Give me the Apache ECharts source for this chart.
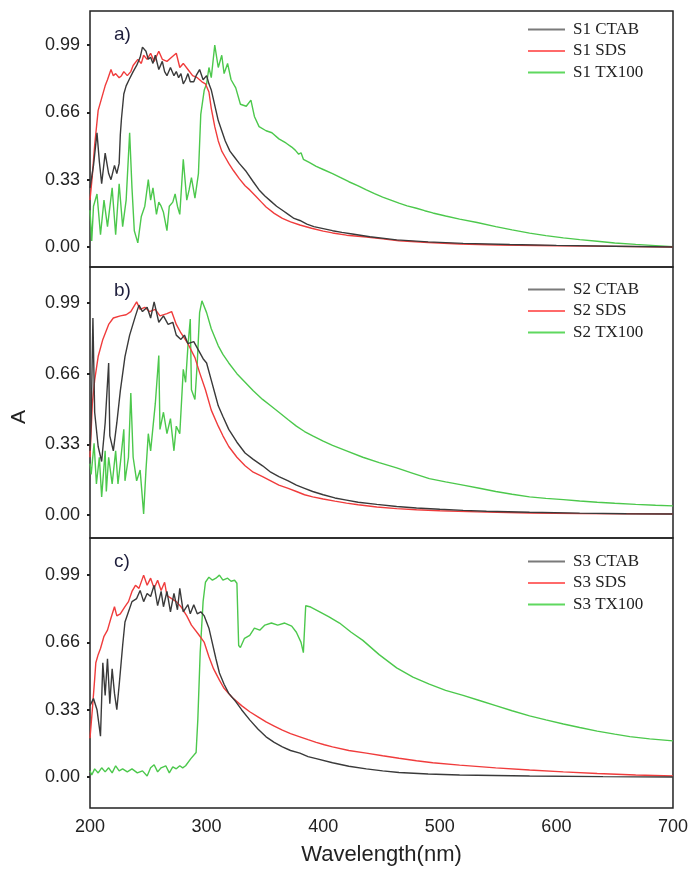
<!DOCTYPE html>
<html>
<head>
<meta charset="utf-8">
<script src="https://cdn.jsdelivr.net/npm/echarts@6/dist/echarts.min.js"></script>
<style>
html,body{margin:0;padding:0;background:#fff;}
#chart{width:691px;height:869px;}
</style>
</head>
<body>
<div id="chart"></div>
<script>
// ---------- DATA (wavelength nm, absorbance A) ----------
const xTicks = [200, 300, 400, 500, 600, 700];
const yTicks = [0, 0.33, 0.66, 0.99];
const panelLabels = ['a)', 'b)', 'c)'];
const seriesNames = [
  ['S1 CTAB', 'S1 SDS', 'S1 TX100'],
  ['S2 CTAB', 'S2 SDS', 'S2 TX100'],
  ['S3 CTAB', 'S3 SDS', 'S3 TX100']
];

const S1_CTAB = [[200,0.29],[203,0.40],[206,0.56],[208,0.42],[210,0.31],[213,0.46],[216,0.36],[218,0.33],[221,0.40],[223,0.36],[225,0.41],[226,0.55],[227,0.63],[229,0.75],[231,0.79],[233.5,0.82],[237,0.86],[240,0.89],[243,0.93],[245,0.98],[248,0.96],[250,0.92],[252,0.93],[254,0.90],[256,0.94],[259,0.87],[262,0.91],[264,0.86],[266,0.84],[269,0.88],[272,0.84],[274,0.86],[276,0.83],[278,0.85],[280,0.80],[282,0.82],[284,0.85],[286,0.81],[289,0.81],[291,0.84],[294,0.87],[297,0.82],[300,0.84],[302,0.80],[304,0.77],[306,0.72],[308,0.67],[310,0.62],[313,0.57],[316,0.52],[320,0.47],[324,0.44],[328,0.41],[334,0.37],[340,0.32],[345,0.28],[350,0.25],[355,0.225],[360,0.20],[365,0.18],[370,0.16],[375,0.14],[380,0.13],[386,0.112],[392,0.10],[400,0.09],[408,0.08],[416,0.072],[425,0.064],[440,0.05],[463,0.035],[490,0.025],[520,0.018],[560,0.012],[600,0.008],[650,0.004],[700,0.0]];
const S1_SDS = [[200,0.23],[202,0.35],[204,0.50],[207,0.67],[210,0.73],[213,0.79],[215,0.82],[218,0.87],[220,0.84],[222,0.85],[225,0.83],[227,0.84],[229,0.86],[232,0.84],[235,0.86],[237,0.89],[241,0.92],[244,0.90],[246,0.94],[249,0.92],[252,0.95],[255,0.91],[259,0.96],[262,0.92],[266,0.91],[270,0.93],[274,0.95],[277,0.88],[280,0.90],[284,0.87],[288,0.84],[292,0.83],[296,0.81],[299,0.80],[302,0.76],[304,0.68],[307,0.59],[310,0.52],[313,0.47],[316,0.44],[319,0.41],[323,0.375],[328,0.335],[333,0.30],[337,0.28],[342,0.25],[347,0.22],[351,0.196],[358,0.165],[365,0.14],[372,0.123],[380,0.108],[390,0.092],[400,0.078],[408,0.069],[420,0.058],[437,0.049],[451,0.04],[465,0.031],[490,0.022],[517,0.015],[550,0.01],[600,0.006],[650,0.003],[700,0.0]];
const S1_TX100 = [[200,0.18],[201.5,0.03],[203,0.20],[206,0.26],[209,0.06],[212,0.23],[215,0.10],[219,0.29],[222,0.06],[225,0.31],[228,0.10],[231,0.23],[234,0.56],[236,0.29],[238,0.08],[241,0.02],[244,0.15],[247,0.20],[250,0.33],[252,0.23],[254,0.29],[257,0.16],[259,0.22],[261,0.20],[263,0.17],[266,0.08],[268,0.20],[271,0.22],[273,0.26],[275,0.20],[277,0.16],[280,0.43],[283,0.23],[285,0.28],[287,0.34],[290,0.24],[293,0.36],[295,0.65],[298,0.77],[300,0.80],[302,0.88],[304,0.83],[307,0.99],[310,0.88],[313,0.94],[315,0.85],[318,0.90],[321,0.82],[325,0.78],[329,0.70],[334,0.69],[338,0.72],[341,0.64],[345,0.59],[351,0.57],[356,0.56],[362,0.53],[368,0.51],[373,0.49],[376,0.475],[379,0.455],[381,0.462],[383,0.43],[388,0.415],[394,0.395],[400,0.38],[408,0.36],[415,0.34],[422,0.32],[430,0.30],[437,0.28],[444,0.262],[451,0.245],[458,0.23],[465,0.215],[472,0.202],[480,0.19],[487,0.178],[494,0.167],[505,0.152],[517,0.137],[532,0.12],[548,0.10],[562,0.084],[577,0.068],[591,0.056],[606,0.045],[620,0.036],[635,0.028],[650,0.02],[668,0.013],[685,0.007],[700,0.002]];

const S2_CTAB = [[200,0.30],[201,0.44],[202.5,0.92],[204,0.48],[207,0.32],[210,0.25],[213,0.43],[216,0.71],[217,0.37],[220,0.30],[223,0.43],[226,0.58],[230,0.74],[234,0.84],[239,0.93],[242,0.98],[245,0.95],[249,0.97],[252,0.92],[255,0.995],[259,0.90],[263,0.93],[267,0.89],[271,0.90],[274,0.84],[278,0.82],[281,0.84],[284,0.80],[289,0.81],[293,0.77],[297,0.73],[300,0.71],[304,0.63],[307,0.57],[310,0.51],[314,0.46],[319,0.40],[326,0.34],[333,0.29],[340,0.26],[348,0.23],[355,0.20],[362,0.18],[370,0.16],[377,0.14],[384,0.125],[391,0.11],[400,0.095],[410,0.08],[420,0.07],[430,0.06],[446,0.05],[463,0.04],[480,0.033],[500,0.027],[520,0.022],[540,0.018],[577,0.013],[620,0.009],[660,0.006],[700,0.005]];
const S2_SDS = [[200,0.27],[202,0.52],[204,0.63],[207,0.74],[211,0.82],[216,0.89],[220,0.92],[226,0.93],[231,0.935],[235,0.95],[240,0.995],[243,0.96],[247,0.97],[251,0.95],[256,0.96],[260,0.93],[266,0.94],[270,0.95],[274,0.89],[278,0.85],[284,0.80],[290,0.735],[294,0.665],[299,0.585],[304,0.49],[310,0.415],[314,0.37],[319,0.32],[326,0.27],[333,0.23],[340,0.20],[348,0.18],[355,0.16],[362,0.14],[370,0.125],[377,0.11],[384,0.095],[391,0.085],[400,0.075],[410,0.065],[420,0.056],[430,0.048],[446,0.038],[463,0.03],[480,0.025],[500,0.02],[540,0.014],[577,0.01],[620,0.007],[660,0.006],[700,0.005]];
const S2_TX100 = [[200,0.24],[201,0.19],[203.5,0.335],[205.5,0.145],[208,0.27],[210,0.085],[213,0.30],[214,0.11],[216,0.27],[219,0.145],[222,0.30],[224,0.145],[226,0.24],[229,0.40],[230,0.16],[233,0.27],[235,0.57],[237,0.27],[240,0.16],[243,0.21],[246,0.005],[248,0.21],[250,0.38],[252,0.30],[256,0.52],[259,0.745],[260,0.40],[263,0.48],[266,0.38],[269,0.45],[272,0.30],[274,0.415],[277,0.38],[280,0.68],[282,0.62],[284,0.79],[286,0.915],[287,0.585],[290,0.54],[292,0.71],[294,0.945],[296,1.0],[300,0.945],[304,0.87],[310,0.79],[314,0.75],[319,0.71],[326,0.66],[333,0.62],[340,0.58],[348,0.54],[355,0.51],[362,0.48],[370,0.445],[377,0.415],[384,0.39],[391,0.37],[400,0.345],[408,0.325],[420,0.30],[434,0.27],[448,0.245],[463,0.22],[477,0.195],[491,0.17],[505,0.155],[520,0.14],[534,0.125],[548,0.11],[562,0.097],[577,0.085],[591,0.078],[606,0.072],[620,0.066],[635,0.06],[650,0.055],[668,0.05],[685,0.046],[700,0.043]];

const S3_CTAB = [[200,0.35],[203,0.385],[206,0.33],[209,0.20],[211,0.56],[213,0.40],[215,0.58],[217,0.36],[219,0.53],[221,0.41],[223,0.33],[225,0.45],[228,0.645],[230,0.76],[233,0.81],[236,0.86],[240,0.875],[243,0.915],[246,0.86],[249,0.90],[252,0.885],[255,0.94],[258,0.84],[261,0.91],[263,0.835],[266,0.91],[269,0.81],[272,0.90],[275,0.82],[277,0.925],[280,0.81],[284,0.845],[286,0.80],[289,0.845],[292,0.80],[295,0.81],[298,0.79],[302,0.73],[304,0.68],[308,0.58],[311,0.51],[315,0.455],[319,0.41],[325,0.37],[330,0.33],[337,0.28],[344,0.235],[351,0.197],[358,0.17],[365,0.148],[372,0.13],[380,0.117],[387,0.10],[394,0.09],[408,0.07],[422,0.053],[437,0.04],[451,0.03],[465,0.022],[490,0.015],[517,0.01],[577,0.005],[640,0.002],[700,0.0]];
const S3_SDS = [[200,0.19],[202,0.33],[204,0.48],[205,0.56],[207,0.60],[209,0.63],[212,0.69],[215,0.72],[218,0.78],[221,0.835],[223,0.79],[226,0.80],[230,0.835],[233,0.86],[236,0.91],[239,0.94],[242,0.925],[246,0.99],[249,0.94],[252,0.975],[255,0.925],[258,0.965],[261,0.915],[264,0.955],[266,0.89],[270,0.875],[274,0.86],[278,0.835],[283,0.79],[287,0.745],[293,0.70],[298,0.66],[302,0.59],[306,0.53],[311,0.475],[315,0.435],[322,0.39],[330,0.35],[337,0.32],[344,0.295],[351,0.27],[358,0.25],[365,0.23],[372,0.213],[380,0.197],[387,0.183],[394,0.17],[401,0.158],[408,0.148],[422,0.13],[437,0.117],[451,0.104],[465,0.092],[480,0.08],[494,0.07],[517,0.058],[548,0.045],[577,0.034],[606,0.025],[635,0.017],[668,0.01],[700,0.005]];
const S3_TX100 = [[200,0.03],[201.5,0.01],[204,0.04],[207,0.02],[210,0.045],[213,0.025],[216,0.045],[219,0.02],[222,0.055],[225,0.03],[228,0.04],[232,0.025],[236,0.04],[240.6,0.02],[245,0.03],[249,0.005],[252,0.045],[255,0.06],[258,0.025],[261,0.045],[265,0.055],[268,0.02],[271,0.05],[274,0.04],[277,0.055],[279.5,0.045],[282,0.055],[286.5,0.09],[291,0.12],[292.5,0.285],[294.5,0.61],[297,0.86],[299,0.955],[302,0.98],[305,0.965],[308,0.975],[311,0.99],[314,0.965],[318,0.975],[321,0.96],[324,0.965],[326,0.95],[327.5,0.645],[329,0.635],[332.5,0.68],[337,0.695],[341,0.73],[345.6,0.72],[350,0.745],[355.6,0.755],[361,0.745],[367,0.755],[373,0.74],[377,0.71],[381,0.66],[383,0.61],[385,0.84],[388.5,0.835],[397,0.81],[405,0.785],[414,0.755],[424,0.71],[434,0.67],[448,0.60],[463,0.535],[477,0.49],[491,0.455],[505,0.425],[520,0.40],[534,0.375],[548,0.35],[562,0.325],[577,0.30],[591,0.28],[606,0.26],[620,0.243],[635,0.225],[650,0.21],[663,0.198],[680,0.187],[700,0.177]];

const panelData = [
  [S1_CTAB, S1_SDS, S1_TX100],
  [S2_CTAB, S2_SDS, S2_TX100],
  [S3_CTAB, S3_SDS, S3_TX100]
];

// ---------- STYLE / LAYOUT ----------
const lineColors = ['#3a3a3a', '#f03c3c', '#4cc84c'];
const legendColors = ['#7a7a7a', '#ff6a6a', '#5fd85f'];
const grids = [
  {top: 11, height: 256},
  {top: 267, height: 271},
  {top: 538, height: 270}
];
const yRanges = [
  {min: -0.098, max: 1.157},
  {min: -0.107, max: 1.158},
  {min: -0.152, max: 1.172}
];
const legendTops = [16, 276, 548];
const sansFont = '"Liberation Sans", Arial, sans-serif';
const serifFont = '"Liberation Serif", "Times New Roman", serif';

const option = {
  backgroundColor: '#fff',
  animation: false,
  grid: grids.map(g => ({
    left: 90, right: 18, top: g.top, height: g.height,
    show: true, borderColor: '#222', borderWidth: 1.5, backgroundColor: 'transparent'
  })),
  xAxis: grids.map((g, i) => ({
    type: 'value', gridIndex: i, min: 200, max: 700, interval: 100,
    axisLine: {show: false}, axisTick: {show: false}, splitLine: {show: false},
    axisLabel: {show: i === 2, color: '#222', fontSize: 18, fontFamily: sansFont, margin: 10},
    name: i === 2 ? 'Wavelength(nm)' : '',
    nameLocation: 'middle', nameGap: 36,
    nameTextStyle: {color: '#222', fontSize: 22, fontFamily: sansFont}
  })),
  yAxis: grids.map((g, i) => ({
    type: 'value', gridIndex: i, min: yRanges[i].min, max: yRanges[i].max,
    axisLine: {show: false}, splitLine: {show: false},
    axisTick: {show: true, customValues: yTicks, length: 3, lineStyle: {color: '#222', width: 2}},
    axisLabel: {
      show: true, customValues: yTicks, color: '#222', fontSize: 18, fontFamily: sansFont, margin: 10,
      formatter: v => v.toFixed(2)
    }
  })),
  title: panelLabels.map((t, i) => ({
    text: t, left: 109, top: grids[i].top + 9,
    textStyle: {color: '#1e1e3c', fontSize: 19, fontWeight: 'normal', fontFamily: sansFont}
  })),
  legend: seriesNames.map((names, i) => ({
    orient: 'vertical', left: 523, top: legendTops[i],
    itemWidth: 37, itemHeight: 2, itemGap: 4.5, icon: 'rect',
    data: names.map((n, k) => ({name: n, itemStyle: {color: legendColors[k]}})),
    textStyle: {color: '#222', fontSize: 17, fontFamily: serifFont, lineHeight: 17, padding: [0, 0, 0, 3]},
    selectedMode: false
  })),
  graphic: [{
    type: 'text', x: 19, y: 417, rotation: Math.PI / 2,
    style: {text: 'A', fill: '#222', font: '21px ' + sansFont, align: 'center', verticalAlign: 'middle'}
  }],
  series: []
};

panelData.forEach((arrs, i) => {
  arrs.forEach((d, k) => {
    option.series.push({
      name: seriesNames[i][k], type: 'line', xAxisIndex: i, yAxisIndex: i,
      data: d, showSymbol: false, symbol: 'none', smooth: false,
      lineStyle: {color: lineColors[k], width: 1.4}, itemStyle: {color: lineColors[k]},
      z: k === 2 ? 2 : (k === 1 ? 3 : 4)
    });
  });
});

const chart = echarts.init(document.getElementById('chart'), null, {renderer: 'canvas'});
chart.setOption(option);
</script>
</body>
</html>
